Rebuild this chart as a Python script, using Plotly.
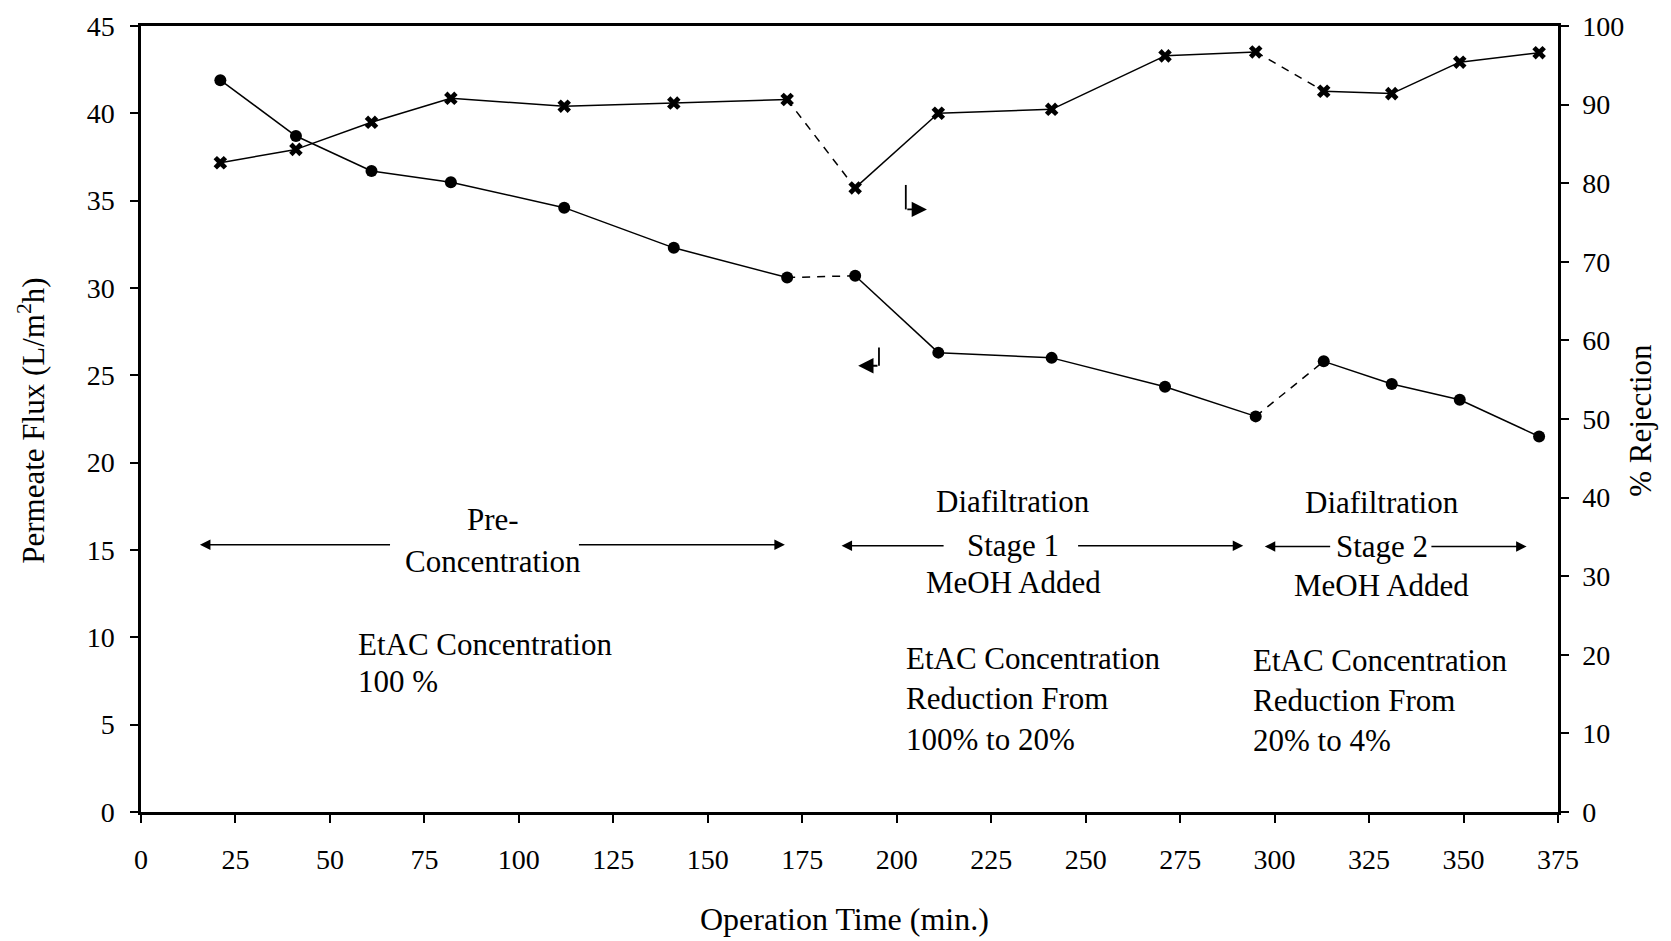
import plotly.graph_objects as go

# ---- data ----
time_min = [21, 41, 61, 82, 112, 141, 171, 189, 211, 241, 271, 295, 313, 331, 349, 370]
flux = [41.9, 38.7, 36.7, 36.05, 34.6, 32.3, 30.6, 30.7, 26.3, 26.0, 24.35, 22.65, 25.8, 24.5, 23.6, 21.5]
rejection = [82.6, 84.3, 87.75, 90.8, 89.8, 90.2, 90.65, 79.4, 88.9, 89.4, 96.2, 96.7, 91.7, 91.4, 95.4, 96.6]
dashed_after = [6, 11]  # segment i -> i+1 drawn dashed

x_ticks = list(range(0, 376, 25))
y_ticks = list(range(0, 46, 5))
y2_ticks = list(range(0, 101, 10))

FONT = "Liberation Serif"
BLACK = "black"


def split_segments(xs, ys):
    sx, sy, dx, dy = [], [], [], []
    for i in range(len(xs) - 1):
        if i in dashed_after:
            dx += [xs[i], xs[i + 1], None]
            dy += [ys[i], ys[i + 1], None]
        else:
            sx += [xs[i], xs[i + 1], None]
            sy += [ys[i], ys[i + 1], None]
    return sx, sy, dx, dy


fig = go.Figure()

for ys, axis, symbol, size in [(flux, "y", "circle", 12), (rejection, "y2", "x", 12)]:
    sx, sy, dx, dy = split_segments(time_min, ys)
    fig.add_trace(go.Scatter(x=sx, y=sy, yaxis=axis, mode="lines",
                             line=dict(color=BLACK, width=1.5), showlegend=False,
                             hoverinfo="skip"))
    fig.add_trace(go.Scatter(x=dx, y=dy, yaxis=axis, mode="lines",
                             line=dict(color=BLACK, width=1.5, dash="8px,7px"),
                             showlegend=False, hoverinfo="skip"))
    fig.add_trace(go.Scatter(x=time_min, y=ys, yaxis=axis, mode="markers",
                             marker=dict(symbol=symbol, size=size, color=BLACK,
                                         line=dict(width=0)),
                             showlegend=False))

ann = []
shapes = []
TF = dict(family=FONT, size=31, color=BLACK)


def text(x, y, t, anchor="center"):
    ann.append(dict(x=x, y=y, xref="x", yref="y", text=t, showarrow=False,
                    font=TF, xanchor=anchor, yanchor="middle"))


def arrow(x0, y0, x1, y1, size=1.4, width=1.5):
    ann.append(dict(x=x1, y=y1, ax=x0, ay=y0, xref="x", yref="y", axref="x", ayref="y",
                    text="", showarrow=True, arrowhead=2, arrowsize=size,
                    arrowwidth=width, arrowcolor=BLACK, standoff=0, startstandoff=0))


def seg(x0, y0, x1, y1, width=1.8):
    shapes.append(dict(type="line", xref="x", yref="y", x0=x0, y0=y0, x1=x1, y1=y1,
                       line=dict(color=BLACK, width=width)))


# Pre-concentration
text(93.1, 16.73, "Pre-")
text(93.1, 14.36, "Concentration")
arrow(66.3, 15.3, 15.6, 15.3)
arrow(115.5, 15.3, 170.4, 15.3)
text(56.9, 9.58, "EtAC Concentration", "left")
text(56.9, 7.47, "100 %", "left")

# Diafiltration stage 1
text(230.8, 17.78, "Diafiltration")
text(230.8, 15.25, "Stage 1")
text(230.8, 13.13, "MeOH Added")
arrow(212.8, 15.25, 185.4, 15.25)
arrow(247.6, 15.25, 291.7, 15.25)
text(201.8, 8.81, "EtAC Concentration", "left")
text(201.8, 6.47, "Reduction From", "left")
text(201.8, 4.17, "100% to 20%", "left")

# Diafiltration stage 2
text(328.5, 17.7, "Diafiltration")
text(328.3, 15.2, "Stage 2")
text(328.2, 12.96, "MeOH Added")
arrow(315.1, 15.2, 297.4, 15.2)
arrow(341.1, 15.2, 366.7, 15.2)
text(293.7, 8.68, "EtAC Concentration", "left")
text(293.7, 6.37, "Reduction From", "left")
text(293.7, 4.11, "20% to 4%", "left")

# small axis-indicator arrows
seg(202.4, 35.9, 202.4, 34.5)
arrow(202.4, 34.5, 208.0, 34.5, size=1.7, width=1.8)
seg(195.3, 26.6, 195.3, 25.55)
arrow(195.3, 25.55, 189.8, 25.55, size=1.7, width=1.8)

# axis titles
TT = dict(family=FONT, size=31, color=BLACK)
ann.append(dict(x=-0.0769, y=0.4978, xref="paper", yref="paper", textangle=-90,
                text="Permeate Flux (L/m<sup>2</sup>h)", showarrow=False, font=TT,
                xanchor="center", yanchor="middle"))
ann.append(dict(x=1.0586, y=0.4978, xref="paper", yref="paper", textangle=-90,
                text="% Rejection", showarrow=False, font=TT,
                xanchor="center", yanchor="middle"))
ann.append(dict(x=0.4968, y=-0.1367, xref="paper", yref="paper",
                text="Operation Time (min.)", showarrow=False,
                font=dict(family=FONT, size=32, color=BLACK),
                xanchor="center", yanchor="middle"))

tickfont = dict(family=FONT, size=28, color=BLACK)
axis_common = dict(showgrid=False, zeroline=False, showline=True, linecolor=BLACK,
                   linewidth=2.5, ticks="outside", ticklen=8, tickwidth=1.5,
                   tickcolor=BLACK, tickfont=tickfont)

fig.update_layout(
    width=1671, height=941,
    margin=dict(l=141, r=113, t=26, b=128.5, pad=0),
    paper_bgcolor="white", plot_bgcolor="white",
    xaxis=dict(range=[0, 375], tickvals=x_ticks, mirror=True, ticklabelstandoff=13,
               **axis_common),
    yaxis=dict(range=[0, 45], tickvals=y_ticks, ticklabelstandoff=10, **axis_common),
    yaxis2=dict(range=[0, 100], tickvals=y2_ticks, overlaying="y", side="right",
                ticklabelstandoff=8, **axis_common),
    annotations=ann,
    shapes=shapes,
    showlegend=False,
)

fig.write_html("out.html")
